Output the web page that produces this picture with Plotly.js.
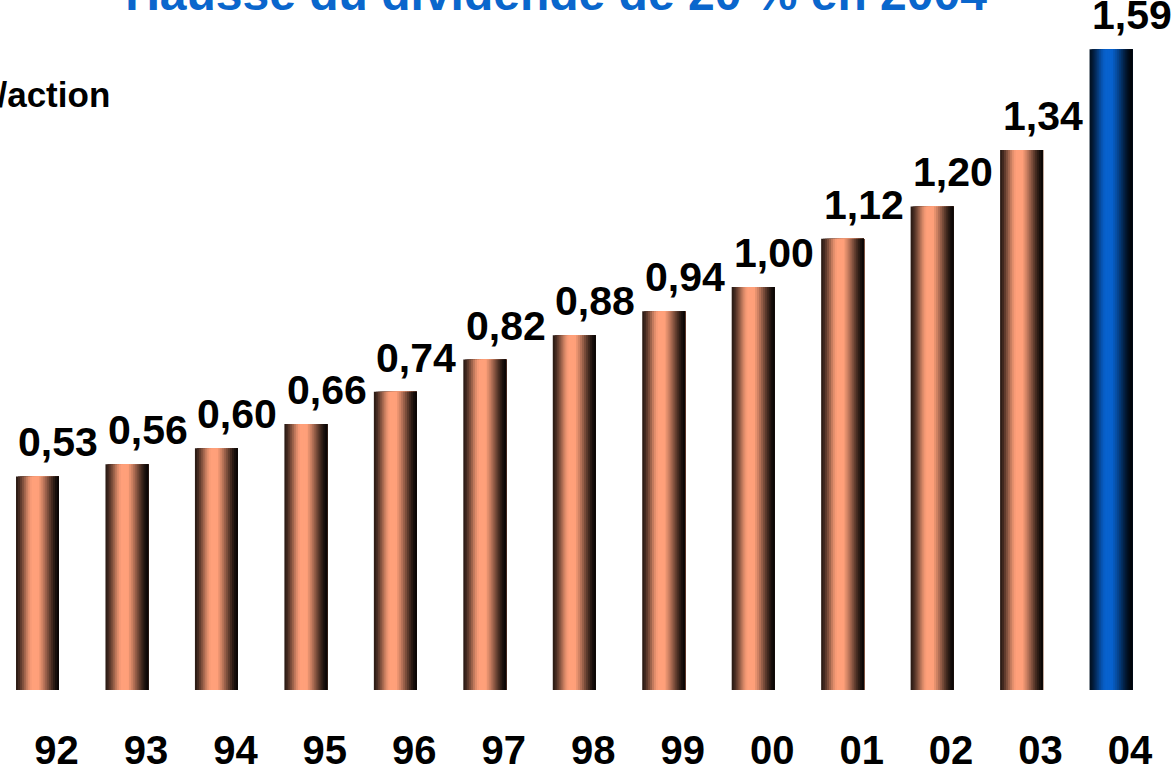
<!DOCTYPE html>
<html>
<head>
<meta charset="utf-8">
<script src="https://cdn.plot.ly/plotly-3.0.1.min.js"></script>
<style>
  html, body { margin: 0; padding: 0; background: #ffffff; }
  #chart { width: 1174px; height: 765px; }
</style>
</head>
<body>
<div id="chart"></div>
<script>
// Dividende par action (€), exercices 1992 à 2004
const years = ['92', '93', '94', '95', '96', '97', '98', '99', '00', '01', '02', '03', '04'];
const dividends = [0.53, 0.56, 0.60, 0.66, 0.74, 0.82, 0.88, 0.94, 1.00, 1.12, 1.20, 1.34, 1.59];
const highlightYear = '04';
const chartTitle = 'Hausse du dividende de 20 % en 2004';
const unitLabel = '€/action';

const FONT = 'Liberation Sans, Arial, sans-serif';

// Cylinder shading: brightness across the bar width, left to right
const shade = [
  [0.00, 0.14], [0.08, 0.28], [0.18, 0.55], [0.28, 0.85], [0.36, 1.00],
  [0.52, 1.00], [0.62, 0.80], [0.72, 0.55], [0.82, 0.30], [0.91, 0.12], [1.00, 0.02]
];
const copper = [255, 160, 122];
const blue = [8, 98, 206];

function shadeAt(t) {
  for (let k = 1; k < shade.length; k++) {
    if (t <= shade[k][0]) {
      const [t0, f0] = shade[k - 1];
      const [t1, f1] = shade[k];
      return f0 + (f1 - f0) * (t - t0) / (t1 - t0);
    }
  }
  return shade[shade.length - 1][1];
}
function rgb(base, f) {
  return 'rgb(' + base.map(c => Math.round(c * f)).join(',') + ')';
}

const BAR_W = 0.48;
const STRIPS = 22;
const traces = [];
for (let i = 0; i < STRIPS; i++) {
  const t = (i + 0.5) / STRIPS;
  const f = shadeAt(t);
  const start = -BAR_W / 2 + i * BAR_W / STRIPS;
  traces.push({
    type: 'bar',
    x: years,
    y: dividends,
    offset: start,
    width: BAR_W - i * BAR_W / STRIPS,
    marker: {
      color: years.map(yr => rgb(yr === highlightYear ? blue : copper, f)),
      line: { width: 0 }
    },
    hoverinfo: 'skip',
    showlegend: false
  });
}

// Value labels above each bar (category index positions, so '00'..'04' stay in place)
const valueLabels = years.map((yr, i) => ({
  x: i,
  y: dividends[i],
  xref: 'x',
  yref: 'y',
  text: dividends[i].toFixed(2).replace('.', ','),
  showarrow: false,
  xanchor: 'center',
  yanchor: 'bottom',
  xshift: 21,
  yshift: 9,
  font: { family: FONT, size: 41, color: '#000000', weight: 'bold' }
}));

valueLabels.push({
  x: 112 / 1174,
  y: 1 - 95 / 690,
  xref: 'paper',
  yref: 'paper',
  text: unitLabel,
  showarrow: false,
  xanchor: 'right',
  yanchor: 'middle',
  font: { family: FONT, size: 35, color: '#000000', weight: 'bold' }
});

const layout = {
  width: 1174,
  height: 765,
  margin: { l: 0, r: 0, t: 0, b: 75 },
  paper_bgcolor: '#ffffff',
  plot_bgcolor: '#ffffff',
  barmode: 'overlay',
  title: {
    text: chartTitle,
    font: { family: FONT, size: 48, color: '#0a66cc', weight: 'bold' },
    x: 556 / 1174,
    xanchor: 'center',
    xref: 'container',
    yref: 'container',
    y: 1 - 10 / 765,
    yanchor: 'bottom'
  },
  xaxis: {
    type: 'category',
    range: [-0.419, 12.704],
    showgrid: false,
    zeroline: false,
    showline: false,
    ticks: '',
    ticklabelshift: 19,
    ticklabelstandoff: 33,
    tickfont: { family: FONT, size: 40, color: '#000000', weight: 'bold' }
  },
  yaxis: {
    range: [0, 690 / 403],
    visible: false,
    showgrid: false,
    zeroline: false
  },
  annotations: valueLabels,
  showlegend: false
};

Plotly.newPlot('chart', traces, layout, { displayModeBar: false, staticPlot: true });
</script>
</body>
</html>
